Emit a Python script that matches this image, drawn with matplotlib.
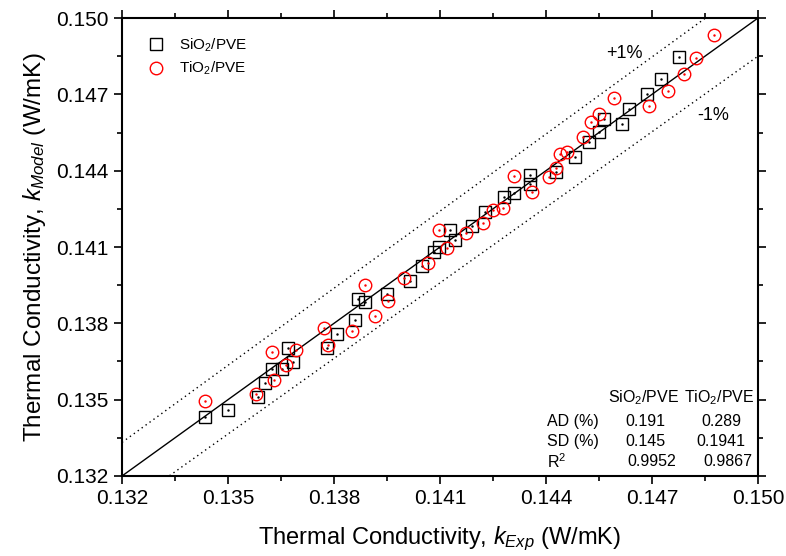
import matplotlib
matplotlib.use("Agg")
import matplotlib.pyplot as plt
from matplotlib.ticker import MultipleLocator
import numpy as np

# SiO2/PVE data (k_exp, k_model)
sio2_exp = [0.13435, 0.13500, 0.13585, 0.13605, 0.13625, 0.13653, 0.13670, 0.13684,
            0.13780, 0.13809, 0.13859, 0.13868, 0.13888, 0.13950, 0.14015, 0.14049,
            0.14083, 0.14097, 0.14128, 0.14142, 0.14191, 0.14227, 0.14281, 0.14309,
            0.14355, 0.14355, 0.14428, 0.14482, 0.14522, 0.14550, 0.14564, 0.14615,
            0.14635, 0.14686, 0.14726, 0.14776]
sio2_mod = [0.13432, 0.13459, 0.13510, 0.13566, 0.13621, 0.13621, 0.13703, 0.13648,
            0.13703, 0.13758, 0.13813, 0.13896, 0.13884, 0.13915, 0.13966, 0.14025,
            0.14080, 0.14100, 0.14167, 0.14128, 0.14183, 0.14238, 0.14297, 0.14312,
            0.14383, 0.14348, 0.14395, 0.14454, 0.14513, 0.14552, 0.14603, 0.14583,
            0.14642, 0.14701, 0.14760, 0.14847]

# TiO2/PVE data
tio2_exp = [0.13435, 0.13579, 0.13630, 0.13664, 0.13625, 0.13692, 0.13772, 0.13783,
            0.13851, 0.13916, 0.13888, 0.13953, 0.13998, 0.14066, 0.14120, 0.14097,
            0.14174, 0.14222, 0.14250, 0.14278, 0.14309, 0.14360, 0.14409, 0.14428,
            0.14440, 0.14459, 0.14505, 0.14527, 0.14550, 0.14592, 0.14692, 0.14745,
            0.14791, 0.14825, 0.14876]
tio2_mod = [0.13495, 0.13522, 0.13577, 0.13636, 0.13687, 0.13695, 0.13782, 0.13715,
            0.13770, 0.13829, 0.13951, 0.13888, 0.13978, 0.14037, 0.14096, 0.14167,
            0.14155, 0.14194, 0.14245, 0.14253, 0.14379, 0.14316, 0.14375, 0.14411,
            0.14466, 0.14473, 0.14532, 0.14591, 0.14623, 0.14686, 0.14654, 0.14713,
            0.14780, 0.14843, 0.14933]

table_cols = ["SiO$_2$/PVE", "TiO$_2$/PVE"]
table_rows = ["AD (%)", "SD (%)", "R$^2$"]
table_vals = [["0.191", "0.289"], ["0.145", "0.1941"], ["0.9952", "0.9867"]]

plt.rcParams["font.family"] = ["Liberation Sans", "DejaVu Sans"]
plt.rcParams["mathtext.fontset"] = "custom"
plt.rcParams["mathtext.rm"] = "Liberation Sans"
plt.rcParams["mathtext.it"] = "Liberation Sans:italic"

fig = plt.figure(figsize=(7.86, 5.56), dpi=100)
ax = fig.add_axes([0.1552, 0.1439, 0.8092, 0.8237])

lo, hi = 0.132, 0.150
line = np.array([lo, hi])
ax.plot(line, line, color="black", lw=1.0, zorder=1)
ax.plot(line, line * 1.01, color="black", lw=1.0, ls=(0, (1, 2.5)), zorder=1)
ax.plot(line, line * 0.99, color="black", lw=1.0, ls=(0, (1, 2.5)), zorder=1)

ax.plot(sio2_exp, sio2_mod, ls="none", marker="s", ms=8, mfc="none",
        mec="black", mew=1.0, label="SiO$_2$/PVE", zorder=3)
ax.plot(sio2_exp, sio2_mod, ls="none", marker=".", ms=1.5, color="black", zorder=3)
ax.plot(tio2_exp, tio2_mod, ls="none", marker="o", ms=9, mfc="none",
        mec="red", mew=1.0, label="TiO$_2$/PVE", zorder=4)
ax.plot(tio2_exp, tio2_mod, ls="none", marker=".", ms=1.5, color="red", zorder=4)

ax.set_xlim(lo, hi)
ax.set_ylim(lo, hi)
ax.xaxis.set_major_locator(MultipleLocator(0.003))
ax.yaxis.set_major_locator(MultipleLocator(0.003))
ax.xaxis.set_minor_locator(MultipleLocator(0.0015))
ax.yaxis.set_minor_locator(MultipleLocator(0.0015))
ax.xaxis.set_major_formatter(plt.FormatStrFormatter("%.3f"))
ax.yaxis.set_major_formatter(plt.FormatStrFormatter("%.3f"))
ax.tick_params(which="both", direction="out", top=True, right=True, width=1.2)
ax.tick_params(which="major", length=6, labelsize=15)
ax.tick_params(which="minor", length=3.5)
for s in ax.spines.values():
    s.set_linewidth(1.5)

ax.set_xlabel("Thermal Conductivity, $k_{Exp}$ (W/mK)", fontsize=17, labelpad=12)
ax.set_ylabel("Thermal Conductivity, $k_{Model}$ (W/mK)", fontsize=17.5, labelpad=6)

ax.legend(loc="upper left", frameon=False, fontsize=11, handletextpad=0.5,
          borderaxespad=0.8, labelspacing=0.4)

ax.text(0.14623, 0.14859, "+1%", fontsize=13, ha="center", va="center")
ax.text(0.14873, 0.14616, "-1%", fontsize=13, ha="center", va="center")

# stats table
col_x = [0.14680, 0.14895]
row_x = 0.14403
ys = [0.13413, 0.13335, 0.13256]
for cx, c in zip(col_x, table_cols):
    ax.text(cx - 0.00005, 0.13507, c, fontsize=11.5, ha="center", va="center")
for y, r, vals in zip(ys, table_rows, table_vals):
    ax.text(row_x, y, r, fontsize=11.5, ha="left", va="center")
    for cx, v in zip(col_x, vals):
        ax.text(cx + (0.0002 if r.startswith("R") else 0), y, v,
                fontsize=11.5, ha="center", va="center")

fig.savefig("out.png", dpi=100)
